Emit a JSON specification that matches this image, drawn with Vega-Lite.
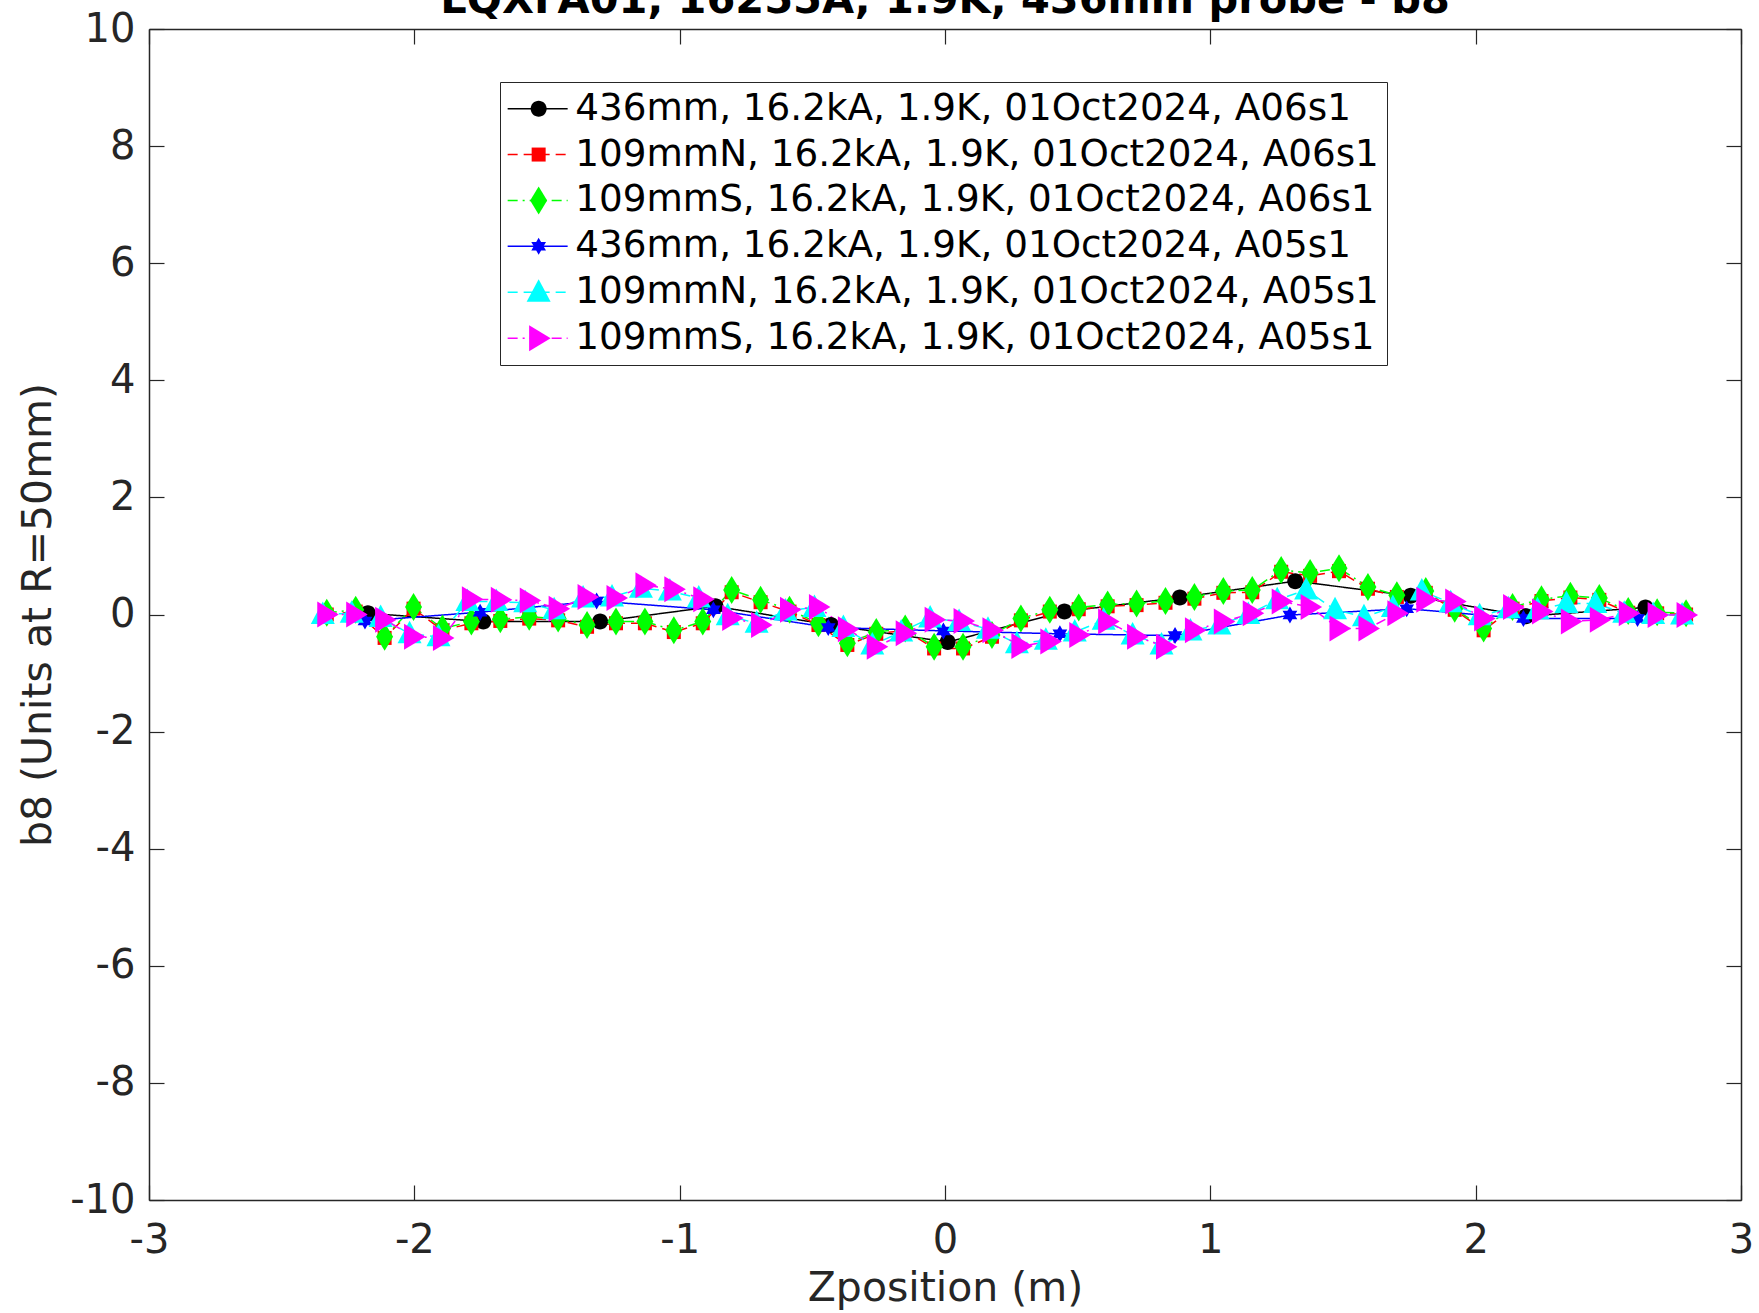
{
"$schema": "https://vega.github.io/schema/vega-lite/v6.json",
"width": 1592, "height": 1171,
"autosize": {"type": "none"},
"padding": {"left": 149, "top": 29, "right": 18, "bottom": 113},
"background": "white",
"title": {"text": "LQXFA01, 16255A, 1.9K, 436mm probe - b8", "font": "DejaVu Sans", "fontSize": 41.5, "fontWeight": "bold", "color": "black", "anchor": "middle", "baseline": "alphabetic", "offset": -45, "frame": "group"},
"config": {
  "view": {"stroke": null},
  "axis": {"domainColor": "#262626", "domainWidth": 1.5, "tickColor": "#262626", "tickWidth": 1.2, "tickSize": -15, "labelFont": "DejaVu Sans", "labelFontSize": 40, "labelColor": "#262626", "titleFont": "DejaVu Sans", "titleFontSize": 41, "titleFontWeight": "normal", "titleColor": "#262626", "grid": false, "labelFlush": false, "labelOverlap": false}
},
"data": {"values": [
{"s":"436mm, 16.2kA, 1.9K, 01Oct2024, A06s1","z":-2.175,"b":0.02},
{"s":"436mm, 16.2kA, 1.9K, 01Oct2024, A06s1","z":-1.74,"b":-0.12},
{"s":"436mm, 16.2kA, 1.9K, 01Oct2024, A06s1","z":-1.30,"b":-0.12},
{"s":"436mm, 16.2kA, 1.9K, 01Oct2024, A06s1","z":-0.865,"b":0.14},
{"s":"436mm, 16.2kA, 1.9K, 01Oct2024, A06s1","z":-0.43,"b":-0.18},
{"s":"436mm, 16.2kA, 1.9K, 01Oct2024, A06s1","z":0.01,"b":-0.47},
{"s":"436mm, 16.2kA, 1.9K, 01Oct2024, A06s1","z":0.45,"b":0.05},
{"s":"436mm, 16.2kA, 1.9K, 01Oct2024, A06s1","z":0.885,"b":0.29},
{"s":"436mm, 16.2kA, 1.9K, 01Oct2024, A06s1","z":1.32,"b":0.57},
{"s":"436mm, 16.2kA, 1.9K, 01Oct2024, A06s1","z":1.755,"b":0.32},
{"s":"436mm, 16.2kA, 1.9K, 01Oct2024, A06s1","z":2.19,"b":-0.03},
{"s":"436mm, 16.2kA, 1.9K, 01Oct2024, A06s1","z":2.64,"b":0.12},
{"s":"109mmN, 16.2kA, 1.9K, 01Oct2024, A06s1","z":-2.330,"b":0.00},
{"s":"109mmN, 16.2kA, 1.9K, 01Oct2024, A06s1","z":-2.221,"b":0.05},
{"s":"109mmN, 16.2kA, 1.9K, 01Oct2024, A06s1","z":-2.112,"b":-0.40},
{"s":"109mmN, 16.2kA, 1.9K, 01Oct2024, A06s1","z":-2.003,"b":0.10},
{"s":"109mmN, 16.2kA, 1.9K, 01Oct2024, A06s1","z":-1.894,"b":-0.27},
{"s":"109mmN, 16.2kA, 1.9K, 01Oct2024, A06s1","z":-1.785,"b":-0.15},
{"s":"109mmN, 16.2kA, 1.9K, 01Oct2024, A06s1","z":-1.676,"b":-0.11},
{"s":"109mmN, 16.2kA, 1.9K, 01Oct2024, A06s1","z":-1.567,"b":-0.07},
{"s":"109mmN, 16.2kA, 1.9K, 01Oct2024, A06s1","z":-1.458,"b":-0.10},
{"s":"109mmN, 16.2kA, 1.9K, 01Oct2024, A06s1","z":-1.349,"b":-0.21},
{"s":"109mmN, 16.2kA, 1.9K, 01Oct2024, A06s1","z":-1.240,"b":-0.15},
{"s":"109mmN, 16.2kA, 1.9K, 01Oct2024, A06s1","z":-1.131,"b":-0.15},
{"s":"109mmN, 16.2kA, 1.9K, 01Oct2024, A06s1","z":-1.022,"b":-0.30},
{"s":"109mmN, 16.2kA, 1.9K, 01Oct2024, A06s1","z":-0.913,"b":-0.15},
{"s":"109mmN, 16.2kA, 1.9K, 01Oct2024, A06s1","z":-0.804,"b":0.38},
{"s":"109mmN, 16.2kA, 1.9K, 01Oct2024, A06s1","z":-0.695,"b":0.21},
{"s":"109mmN, 16.2kA, 1.9K, 01Oct2024, A06s1","z":-0.586,"b":0.05},
{"s":"109mmN, 16.2kA, 1.9K, 01Oct2024, A06s1","z":-0.477,"b":-0.18},
{"s":"109mmN, 16.2kA, 1.9K, 01Oct2024, A06s1","z":-0.368,"b":-0.52},
{"s":"109mmN, 16.2kA, 1.9K, 01Oct2024, A06s1","z":-0.259,"b":-0.33},
{"s":"109mmN, 16.2kA, 1.9K, 01Oct2024, A06s1","z":-0.150,"b":-0.27},
{"s":"109mmN, 16.2kA, 1.9K, 01Oct2024, A06s1","z":-0.041,"b":-0.58},
{"s":"109mmN, 16.2kA, 1.9K, 01Oct2024, A06s1","z":0.068,"b":-0.58},
{"s":"109mmN, 16.2kA, 1.9K, 01Oct2024, A06s1","z":0.177,"b":-0.38},
{"s":"109mmN, 16.2kA, 1.9K, 01Oct2024, A06s1","z":0.286,"b":-0.10},
{"s":"109mmN, 16.2kA, 1.9K, 01Oct2024, A06s1","z":0.395,"b":0.05},
{"s":"109mmN, 16.2kA, 1.9K, 01Oct2024, A06s1","z":0.504,"b":0.09},
{"s":"109mmN, 16.2kA, 1.9K, 01Oct2024, A06s1","z":0.613,"b":0.14},
{"s":"109mmN, 16.2kA, 1.9K, 01Oct2024, A06s1","z":0.722,"b":0.16},
{"s":"109mmN, 16.2kA, 1.9K, 01Oct2024, A06s1","z":0.831,"b":0.20},
{"s":"109mmN, 16.2kA, 1.9K, 01Oct2024, A06s1","z":0.940,"b":0.27},
{"s":"109mmN, 16.2kA, 1.9K, 01Oct2024, A06s1","z":1.049,"b":0.37},
{"s":"109mmN, 16.2kA, 1.9K, 01Oct2024, A06s1","z":1.158,"b":0.38},
{"s":"109mmN, 16.2kA, 1.9K, 01Oct2024, A06s1","z":1.267,"b":0.73},
{"s":"109mmN, 16.2kA, 1.9K, 01Oct2024, A06s1","z":1.376,"b":0.66},
{"s":"109mmN, 16.2kA, 1.9K, 01Oct2024, A06s1","z":1.485,"b":0.74},
{"s":"109mmN, 16.2kA, 1.9K, 01Oct2024, A06s1","z":1.594,"b":0.44},
{"s":"109mmN, 16.2kA, 1.9K, 01Oct2024, A06s1","z":1.703,"b":0.30},
{"s":"109mmN, 16.2kA, 1.9K, 01Oct2024, A06s1","z":1.812,"b":0.37},
{"s":"109mmN, 16.2kA, 1.9K, 01Oct2024, A06s1","z":1.921,"b":0.08},
{"s":"109mmN, 16.2kA, 1.9K, 01Oct2024, A06s1","z":2.030,"b":-0.27},
{"s":"109mmN, 16.2kA, 1.9K, 01Oct2024, A06s1","z":2.139,"b":0.10},
{"s":"109mmN, 16.2kA, 1.9K, 01Oct2024, A06s1","z":2.248,"b":0.23},
{"s":"109mmN, 16.2kA, 1.9K, 01Oct2024, A06s1","z":2.357,"b":0.29},
{"s":"109mmN, 16.2kA, 1.9K, 01Oct2024, A06s1","z":2.466,"b":0.25},
{"s":"109mmN, 16.2kA, 1.9K, 01Oct2024, A06s1","z":2.575,"b":0.03},
{"s":"109mmN, 16.2kA, 1.9K, 01Oct2024, A06s1","z":2.684,"b":0.02},
{"s":"109mmN, 16.2kA, 1.9K, 01Oct2024, A06s1","z":2.793,"b":0.00},
{"s":"109mmS, 16.2kA, 1.9K, 01Oct2024, A06s1","z":-2.330,"b":0.03},
{"s":"109mmS, 16.2kA, 1.9K, 01Oct2024, A06s1","z":-2.221,"b":0.08},
{"s":"109mmS, 16.2kA, 1.9K, 01Oct2024, A06s1","z":-2.112,"b":-0.38},
{"s":"109mmS, 16.2kA, 1.9K, 01Oct2024, A06s1","z":-2.003,"b":0.13},
{"s":"109mmS, 16.2kA, 1.9K, 01Oct2024, A06s1","z":-1.894,"b":-0.24},
{"s":"109mmS, 16.2kA, 1.9K, 01Oct2024, A06s1","z":-1.785,"b":-0.12},
{"s":"109mmS, 16.2kA, 1.9K, 01Oct2024, A06s1","z":-1.676,"b":-0.08},
{"s":"109mmS, 16.2kA, 1.9K, 01Oct2024, A06s1","z":-1.567,"b":-0.04},
{"s":"109mmS, 16.2kA, 1.9K, 01Oct2024, A06s1","z":-1.458,"b":-0.07},
{"s":"109mmS, 16.2kA, 1.9K, 01Oct2024, A06s1","z":-1.349,"b":-0.18},
{"s":"109mmS, 16.2kA, 1.9K, 01Oct2024, A06s1","z":-1.240,"b":-0.12},
{"s":"109mmS, 16.2kA, 1.9K, 01Oct2024, A06s1","z":-1.131,"b":-0.12},
{"s":"109mmS, 16.2kA, 1.9K, 01Oct2024, A06s1","z":-1.022,"b":-0.27},
{"s":"109mmS, 16.2kA, 1.9K, 01Oct2024, A06s1","z":-0.913,"b":-0.12},
{"s":"109mmS, 16.2kA, 1.9K, 01Oct2024, A06s1","z":-0.804,"b":0.42},
{"s":"109mmS, 16.2kA, 1.9K, 01Oct2024, A06s1","z":-0.695,"b":0.25},
{"s":"109mmS, 16.2kA, 1.9K, 01Oct2024, A06s1","z":-0.586,"b":0.08},
{"s":"109mmS, 16.2kA, 1.9K, 01Oct2024, A06s1","z":-0.477,"b":-0.15},
{"s":"109mmS, 16.2kA, 1.9K, 01Oct2024, A06s1","z":-0.368,"b":-0.49},
{"s":"109mmS, 16.2kA, 1.9K, 01Oct2024, A06s1","z":-0.259,"b":-0.30},
{"s":"109mmS, 16.2kA, 1.9K, 01Oct2024, A06s1","z":-0.150,"b":-0.24},
{"s":"109mmS, 16.2kA, 1.9K, 01Oct2024, A06s1","z":-0.041,"b":-0.55},
{"s":"109mmS, 16.2kA, 1.9K, 01Oct2024, A06s1","z":0.068,"b":-0.55},
{"s":"109mmS, 16.2kA, 1.9K, 01Oct2024, A06s1","z":0.177,"b":-0.35},
{"s":"109mmS, 16.2kA, 1.9K, 01Oct2024, A06s1","z":0.286,"b":-0.07},
{"s":"109mmS, 16.2kA, 1.9K, 01Oct2024, A06s1","z":0.395,"b":0.08},
{"s":"109mmS, 16.2kA, 1.9K, 01Oct2024, A06s1","z":0.504,"b":0.12},
{"s":"109mmS, 16.2kA, 1.9K, 01Oct2024, A06s1","z":0.613,"b":0.17},
{"s":"109mmS, 16.2kA, 1.9K, 01Oct2024, A06s1","z":0.722,"b":0.19},
{"s":"109mmS, 16.2kA, 1.9K, 01Oct2024, A06s1","z":0.831,"b":0.23},
{"s":"109mmS, 16.2kA, 1.9K, 01Oct2024, A06s1","z":0.940,"b":0.30},
{"s":"109mmS, 16.2kA, 1.9K, 01Oct2024, A06s1","z":1.049,"b":0.40},
{"s":"109mmS, 16.2kA, 1.9K, 01Oct2024, A06s1","z":1.158,"b":0.42},
{"s":"109mmS, 16.2kA, 1.9K, 01Oct2024, A06s1","z":1.267,"b":0.76},
{"s":"109mmS, 16.2kA, 1.9K, 01Oct2024, A06s1","z":1.376,"b":0.71},
{"s":"109mmS, 16.2kA, 1.9K, 01Oct2024, A06s1","z":1.485,"b":0.79},
{"s":"109mmS, 16.2kA, 1.9K, 01Oct2024, A06s1","z":1.594,"b":0.47},
{"s":"109mmS, 16.2kA, 1.9K, 01Oct2024, A06s1","z":1.703,"b":0.33},
{"s":"109mmS, 16.2kA, 1.9K, 01Oct2024, A06s1","z":1.812,"b":0.40},
{"s":"109mmS, 16.2kA, 1.9K, 01Oct2024, A06s1","z":1.921,"b":0.10},
{"s":"109mmS, 16.2kA, 1.9K, 01Oct2024, A06s1","z":2.030,"b":-0.24},
{"s":"109mmS, 16.2kA, 1.9K, 01Oct2024, A06s1","z":2.139,"b":0.13},
{"s":"109mmS, 16.2kA, 1.9K, 01Oct2024, A06s1","z":2.248,"b":0.26},
{"s":"109mmS, 16.2kA, 1.9K, 01Oct2024, A06s1","z":2.357,"b":0.32},
{"s":"109mmS, 16.2kA, 1.9K, 01Oct2024, A06s1","z":2.466,"b":0.28},
{"s":"109mmS, 16.2kA, 1.9K, 01Oct2024, A06s1","z":2.575,"b":0.06},
{"s":"109mmS, 16.2kA, 1.9K, 01Oct2024, A06s1","z":2.684,"b":0.04},
{"s":"109mmS, 16.2kA, 1.9K, 01Oct2024, A06s1","z":2.793,"b":0.02},
{"s":"436mm, 16.2kA, 1.9K, 01Oct2024, A05s1","z":-2.186,"b":-0.11},
{"s":"436mm, 16.2kA, 1.9K, 01Oct2024, A05s1","z":-1.752,"b":0.04},
{"s":"436mm, 16.2kA, 1.9K, 01Oct2024, A05s1","z":-1.313,"b":0.23},
{"s":"436mm, 16.2kA, 1.9K, 01Oct2024, A05s1","z":-0.873,"b":0.08},
{"s":"436mm, 16.2kA, 1.9K, 01Oct2024, A05s1","z":-0.44,"b":-0.22},
{"s":"436mm, 16.2kA, 1.9K, 01Oct2024, A05s1","z":-0.006,"b":-0.28},
{"s":"436mm, 16.2kA, 1.9K, 01Oct2024, A05s1","z":0.433,"b":-0.33},
{"s":"436mm, 16.2kA, 1.9K, 01Oct2024, A05s1","z":0.867,"b":-0.36},
{"s":"436mm, 16.2kA, 1.9K, 01Oct2024, A05s1","z":1.30,"b":-0.01},
{"s":"436mm, 16.2kA, 1.9K, 01Oct2024, A05s1","z":1.74,"b":0.10},
{"s":"436mm, 16.2kA, 1.9K, 01Oct2024, A05s1","z":2.18,"b":-0.07},
{"s":"436mm, 16.2kA, 1.9K, 01Oct2024, A05s1","z":2.61,"b":-0.07},
{"s":"109mmN, 16.2kA, 1.9K, 01Oct2024, A05s1","z":-2.345,"b":0.00},
{"s":"109mmN, 16.2kA, 1.9K, 01Oct2024, A05s1","z":-2.236,"b":0.02},
{"s":"109mmN, 16.2kA, 1.9K, 01Oct2024, A05s1","z":-2.127,"b":-0.05},
{"s":"109mmN, 16.2kA, 1.9K, 01Oct2024, A05s1","z":-2.018,"b":-0.33},
{"s":"109mmN, 16.2kA, 1.9K, 01Oct2024, A05s1","z":-1.909,"b":-0.38},
{"s":"109mmN, 16.2kA, 1.9K, 01Oct2024, A05s1","z":-1.800,"b":0.22},
{"s":"109mmN, 16.2kA, 1.9K, 01Oct2024, A05s1","z":-1.691,"b":0.22},
{"s":"109mmN, 16.2kA, 1.9K, 01Oct2024, A05s1","z":-1.582,"b":0.20},
{"s":"109mmN, 16.2kA, 1.9K, 01Oct2024, A05s1","z":-1.473,"b":0.08},
{"s":"109mmN, 16.2kA, 1.9K, 01Oct2024, A05s1","z":-1.364,"b":0.28},
{"s":"109mmN, 16.2kA, 1.9K, 01Oct2024, A05s1","z":-1.255,"b":0.30},
{"s":"109mmN, 16.2kA, 1.9K, 01Oct2024, A05s1","z":-1.146,"b":0.45},
{"s":"109mmN, 16.2kA, 1.9K, 01Oct2024, A05s1","z":-1.037,"b":0.40},
{"s":"109mmN, 16.2kA, 1.9K, 01Oct2024, A05s1","z":-0.928,"b":0.28},
{"s":"109mmN, 16.2kA, 1.9K, 01Oct2024, A05s1","z":-0.819,"b":-0.02},
{"s":"109mmN, 16.2kA, 1.9K, 01Oct2024, A05s1","z":-0.710,"b":-0.15},
{"s":"109mmN, 16.2kA, 1.9K, 01Oct2024, A05s1","z":-0.601,"b":0.06},
{"s":"109mmN, 16.2kA, 1.9K, 01Oct2024, A05s1","z":-0.492,"b":0.12},
{"s":"109mmN, 16.2kA, 1.9K, 01Oct2024, A05s1","z":-0.383,"b":-0.22},
{"s":"109mmN, 16.2kA, 1.9K, 01Oct2024, A05s1","z":-0.274,"b":-0.52},
{"s":"109mmN, 16.2kA, 1.9K, 01Oct2024, A05s1","z":-0.165,"b":-0.30},
{"s":"109mmN, 16.2kA, 1.9K, 01Oct2024, A05s1","z":-0.056,"b":-0.06},
{"s":"109mmN, 16.2kA, 1.9K, 01Oct2024, A05s1","z":0.053,"b":-0.12},
{"s":"109mmN, 16.2kA, 1.9K, 01Oct2024, A05s1","z":0.162,"b":-0.25},
{"s":"109mmN, 16.2kA, 1.9K, 01Oct2024, A05s1","z":0.271,"b":-0.50},
{"s":"109mmN, 16.2kA, 1.9K, 01Oct2024, A05s1","z":0.380,"b":-0.44},
{"s":"109mmN, 16.2kA, 1.9K, 01Oct2024, A05s1","z":0.489,"b":-0.30},
{"s":"109mmN, 16.2kA, 1.9K, 01Oct2024, A05s1","z":0.598,"b":-0.10},
{"s":"109mmN, 16.2kA, 1.9K, 01Oct2024, A05s1","z":0.707,"b":-0.35},
{"s":"109mmN, 16.2kA, 1.9K, 01Oct2024, A05s1","z":0.816,"b":-0.52},
{"s":"109mmN, 16.2kA, 1.9K, 01Oct2024, A05s1","z":0.925,"b":-0.28},
{"s":"109mmN, 16.2kA, 1.9K, 01Oct2024, A05s1","z":1.034,"b":-0.18},
{"s":"109mmN, 16.2kA, 1.9K, 01Oct2024, A05s1","z":1.143,"b":0.00},
{"s":"109mmN, 16.2kA, 1.9K, 01Oct2024, A05s1","z":1.252,"b":0.25},
{"s":"109mmN, 16.2kA, 1.9K, 01Oct2024, A05s1","z":1.361,"b":0.42},
{"s":"109mmN, 16.2kA, 1.9K, 01Oct2024, A05s1","z":1.470,"b":0.08},
{"s":"109mmN, 16.2kA, 1.9K, 01Oct2024, A05s1","z":1.579,"b":-0.04},
{"s":"109mmN, 16.2kA, 1.9K, 01Oct2024, A05s1","z":1.688,"b":0.12},
{"s":"109mmN, 16.2kA, 1.9K, 01Oct2024, A05s1","z":1.797,"b":0.40},
{"s":"109mmN, 16.2kA, 1.9K, 01Oct2024, A05s1","z":1.906,"b":0.20},
{"s":"109mmN, 16.2kA, 1.9K, 01Oct2024, A05s1","z":2.015,"b":-0.02},
{"s":"109mmN, 16.2kA, 1.9K, 01Oct2024, A05s1","z":2.124,"b":0.10},
{"s":"109mmN, 16.2kA, 1.9K, 01Oct2024, A05s1","z":2.233,"b":0.08},
{"s":"109mmN, 16.2kA, 1.9K, 01Oct2024, A05s1","z":2.342,"b":0.19},
{"s":"109mmN, 16.2kA, 1.9K, 01Oct2024, A05s1","z":2.451,"b":0.19},
{"s":"109mmN, 16.2kA, 1.9K, 01Oct2024, A05s1","z":2.560,"b":0.02},
{"s":"109mmN, 16.2kA, 1.9K, 01Oct2024, A05s1","z":2.669,"b":0.00},
{"s":"109mmN, 16.2kA, 1.9K, 01Oct2024, A05s1","z":2.778,"b":-0.01},
{"s":"109mmS, 16.2kA, 1.9K, 01Oct2024, A05s1","z":-2.330,"b":0.00},
{"s":"109mmS, 16.2kA, 1.9K, 01Oct2024, A05s1","z":-2.221,"b":0.00},
{"s":"109mmS, 16.2kA, 1.9K, 01Oct2024, A05s1","z":-2.112,"b":-0.09},
{"s":"109mmS, 16.2kA, 1.9K, 01Oct2024, A05s1","z":-2.003,"b":-0.38},
{"s":"109mmS, 16.2kA, 1.9K, 01Oct2024, A05s1","z":-1.894,"b":-0.40},
{"s":"109mmS, 16.2kA, 1.9K, 01Oct2024, A05s1","z":-1.785,"b":0.26},
{"s":"109mmS, 16.2kA, 1.9K, 01Oct2024, A05s1","z":-1.676,"b":0.25},
{"s":"109mmS, 16.2kA, 1.9K, 01Oct2024, A05s1","z":-1.567,"b":0.24},
{"s":"109mmS, 16.2kA, 1.9K, 01Oct2024, A05s1","z":-1.458,"b":0.10},
{"s":"109mmS, 16.2kA, 1.9K, 01Oct2024, A05s1","z":-1.349,"b":0.30},
{"s":"109mmS, 16.2kA, 1.9K, 01Oct2024, A05s1","z":-1.240,"b":0.28},
{"s":"109mmS, 16.2kA, 1.9K, 01Oct2024, A05s1","z":-1.131,"b":0.50},
{"s":"109mmS, 16.2kA, 1.9K, 01Oct2024, A05s1","z":-1.022,"b":0.43},
{"s":"109mmS, 16.2kA, 1.9K, 01Oct2024, A05s1","z":-0.913,"b":0.26},
{"s":"109mmS, 16.2kA, 1.9K, 01Oct2024, A05s1","z":-0.804,"b":-0.06},
{"s":"109mmS, 16.2kA, 1.9K, 01Oct2024, A05s1","z":-0.695,"b":-0.18},
{"s":"109mmS, 16.2kA, 1.9K, 01Oct2024, A05s1","z":-0.586,"b":0.08},
{"s":"109mmS, 16.2kA, 1.9K, 01Oct2024, A05s1","z":-0.477,"b":0.13},
{"s":"109mmS, 16.2kA, 1.9K, 01Oct2024, A05s1","z":-0.368,"b":-0.25},
{"s":"109mmS, 16.2kA, 1.9K, 01Oct2024, A05s1","z":-0.259,"b":-0.55},
{"s":"109mmS, 16.2kA, 1.9K, 01Oct2024, A05s1","z":-0.150,"b":-0.32},
{"s":"109mmS, 16.2kA, 1.9K, 01Oct2024, A05s1","z":-0.041,"b":-0.09},
{"s":"109mmS, 16.2kA, 1.9K, 01Oct2024, A05s1","z":0.068,"b":-0.11},
{"s":"109mmS, 16.2kA, 1.9K, 01Oct2024, A05s1","z":0.177,"b":-0.27},
{"s":"109mmS, 16.2kA, 1.9K, 01Oct2024, A05s1","z":0.286,"b":-0.54},
{"s":"109mmS, 16.2kA, 1.9K, 01Oct2024, A05s1","z":0.395,"b":-0.46},
{"s":"109mmS, 16.2kA, 1.9K, 01Oct2024, A05s1","z":0.504,"b":-0.35},
{"s":"109mmS, 16.2kA, 1.9K, 01Oct2024, A05s1","z":0.613,"b":-0.12},
{"s":"109mmS, 16.2kA, 1.9K, 01Oct2024, A05s1","z":0.722,"b":-0.38},
{"s":"109mmS, 16.2kA, 1.9K, 01Oct2024, A05s1","z":0.831,"b":-0.55},
{"s":"109mmS, 16.2kA, 1.9K, 01Oct2024, A05s1","z":0.940,"b":-0.27},
{"s":"109mmS, 16.2kA, 1.9K, 01Oct2024, A05s1","z":1.049,"b":-0.12},
{"s":"109mmS, 16.2kA, 1.9K, 01Oct2024, A05s1","z":1.158,"b":0.02},
{"s":"109mmS, 16.2kA, 1.9K, 01Oct2024, A05s1","z":1.267,"b":0.22},
{"s":"109mmS, 16.2kA, 1.9K, 01Oct2024, A05s1","z":1.376,"b":0.13},
{"s":"109mmS, 16.2kA, 1.9K, 01Oct2024, A05s1","z":1.485,"b":-0.24},
{"s":"109mmS, 16.2kA, 1.9K, 01Oct2024, A05s1","z":1.594,"b":-0.24},
{"s":"109mmS, 16.2kA, 1.9K, 01Oct2024, A05s1","z":1.703,"b":0.02},
{"s":"109mmS, 16.2kA, 1.9K, 01Oct2024, A05s1","z":1.812,"b":0.25},
{"s":"109mmS, 16.2kA, 1.9K, 01Oct2024, A05s1","z":1.921,"b":0.22},
{"s":"109mmS, 16.2kA, 1.9K, 01Oct2024, A05s1","z":2.030,"b":-0.07},
{"s":"109mmS, 16.2kA, 1.9K, 01Oct2024, A05s1","z":2.139,"b":0.13},
{"s":"109mmS, 16.2kA, 1.9K, 01Oct2024, A05s1","z":2.248,"b":0.05},
{"s":"109mmS, 16.2kA, 1.9K, 01Oct2024, A05s1","z":2.357,"b":-0.12},
{"s":"109mmS, 16.2kA, 1.9K, 01Oct2024, A05s1","z":2.466,"b":-0.09},
{"s":"109mmS, 16.2kA, 1.9K, 01Oct2024, A05s1","z":2.575,"b":0.02},
{"s":"109mmS, 16.2kA, 1.9K, 01Oct2024, A05s1","z":2.684,"b":-0.01},
{"s":"109mmS, 16.2kA, 1.9K, 01Oct2024, A05s1","z":2.793,"b":-0.01}
]},
"layer": [
  {
    "mark": {"type": "line", "strokeWidth": 1.5},
    "encoding": {
      "x": {"field": "z", "type": "quantitative", "scale": {"domain": [-3, 3], "nice": false, "zero": false},
            "axis": {"orient": "bottom", "values": [-3, -2, -1, 0, 1, 2, 3], "labelExpr": "'' + datum.value", "labelPadding": 35, "title": "Zposition (m)", "titlePadding": 8}},
      "y": {"field": "b", "type": "quantitative", "scale": {"domain": [-10, 10], "nice": false, "zero": false},
            "axis": {"orient": "left", "values": [-10, -8, -6, -4, -2, 0, 2, 4, 6, 8, 10], "labelExpr": "'' + datum.value", "labelPadding": 29, "title": "b8 (Units at R=50mm)", "titlePadding": 10}},
      "color": {"field": "s", "type": "nominal",
        "scale": {"domain": ["436mm, 16.2kA, 1.9K, 01Oct2024, A06s1", "109mmN, 16.2kA, 1.9K, 01Oct2024, A06s1", "109mmS, 16.2kA, 1.9K, 01Oct2024, A06s1", "436mm, 16.2kA, 1.9K, 01Oct2024, A05s1", "109mmN, 16.2kA, 1.9K, 01Oct2024, A05s1", "109mmS, 16.2kA, 1.9K, 01Oct2024, A05s1"],
                  "range": ["#000000", "#ff0000", "#00ff00", "#0000ff", "#00ffff", "#ff00ff"]},
        "legend": {"orient": "none", "legendX": 351, "legendY": 53, "title": null, "symbolType": "M-1.9,0H4.1", "symbolSize": 400, "symbolStrokeWidth": 1.5, "labelFont": "DejaVu Sans", "labelFontSize": 37.3, "labelOpacity": 0, "labelOffset": 30, "labelLimit": 2000, "padding": 8, "rowPadding": 7.9, "strokeColor": "#262626"}},
      "strokeDash": {"field": "s", "type": "nominal",
        "scale": {"domain": ["436mm, 16.2kA, 1.9K, 01Oct2024, A06s1", "109mmN, 16.2kA, 1.9K, 01Oct2024, A06s1", "109mmS, 16.2kA, 1.9K, 01Oct2024, A06s1", "436mm, 16.2kA, 1.9K, 01Oct2024, A05s1", "109mmN, 16.2kA, 1.9K, 01Oct2024, A05s1", "109mmS, 16.2kA, 1.9K, 01Oct2024, A05s1"],
                  "range": [[1, 0], [10, 6], [10, 5, 2, 5], [1, 0], [10, 6], [10, 5, 2, 5]]},
        "legend": {"orient": "none", "legendX": 351, "legendY": 53, "title": null, "symbolType": "M-1.9,0H4.1", "symbolSize": 400, "symbolStrokeWidth": 1.5, "labelFont": "DejaVu Sans", "labelFontSize": 37.3, "labelOpacity": 0, "labelOffset": 30, "labelLimit": 2000, "padding": 8, "rowPadding": 7.9, "strokeColor": "#262626"}}
    }
  },
  {
    "mark": {"type": "point", "filled": true, "size": 400, "opacity": 1},
    "encoding": {
      "x": {"field": "z", "type": "quantitative", "axis": {"orient": "top", "values": [-3, -2, -1, 0, 1, 2, 3], "labels": false, "title": null}},
      "y": {"field": "b", "type": "quantitative", "axis": {"orient": "right", "values": [-10, -8, -6, -4, -2, 0, 2, 4, 6, 8, 10], "labels": false, "title": null}},
      "color": {"field": "s", "type": "nominal",
        "scale": {"domain": ["436mm, 16.2kA, 1.9K, 01Oct2024, A06s1", "109mmN, 16.2kA, 1.9K, 01Oct2024, A06s1", "109mmS, 16.2kA, 1.9K, 01Oct2024, A06s1", "436mm, 16.2kA, 1.9K, 01Oct2024, A05s1", "109mmN, 16.2kA, 1.9K, 01Oct2024, A05s1", "109mmS, 16.2kA, 1.9K, 01Oct2024, A05s1"],
                  "range": ["#000000", "#ff0000", "#00ff00", "#0000ff", "#00ffff", "#ff00ff"]},
        "legend": {"orient": "none", "legendX": 363, "legendY": 53, "title": null, "symbolSize": 400, "labelFont": "DejaVu Sans", "labelFontSize": 37.3, "labelColor": "#000000", "labelOffset": 18, "labelLimit": 2000, "padding": 8, "rowPadding": 7.9}},
      "shape": {"field": "s", "type": "nominal",
        "scale": {"domain": ["436mm, 16.2kA, 1.9K, 01Oct2024, A06s1", "109mmN, 16.2kA, 1.9K, 01Oct2024, A06s1", "109mmS, 16.2kA, 1.9K, 01Oct2024, A06s1", "436mm, 16.2kA, 1.9K, 01Oct2024, A05s1", "109mmN, 16.2kA, 1.9K, 01Oct2024, A05s1", "109mmS, 16.2kA, 1.9K, 01Oct2024, A05s1"],
                  "range": ["M0.8,0A0.8,0.8 0 1,1 -0.8,0A0.8,0.8 0 1,1 0.8,0Z", "M-0.7,-0.7H0.7V0.7H-0.7Z", "M0,-1.4L0.85,0L0,1.4L-0.85,0Z", "M0,-0.85L0.245,-0.425L0.736,-0.425L0.49,0L0.736,0.425L0.245,0.425L0,0.85L-0.245,0.425L-0.736,0.425L-0.49,0L-0.736,-0.425L-0.245,-0.425Z", "M0,-1.3L1.2,0.95L-1.2,0.95Z", "M-0.95,-1.3L1.2,0L-0.95,1.3Z"]},
        "legend": {"orient": "none", "legendX": 363, "legendY": 53, "title": null, "symbolSize": 400, "labelFont": "DejaVu Sans", "labelFontSize": 37.3, "labelColor": "#000000", "labelOffset": 18, "labelLimit": 2000, "padding": 8, "rowPadding": 7.9}}
    }
  }
],
"resolve": {
  "scale": {"color": "independent", "shape": "independent", "strokeDash": "independent"},
  "legend": {"color": "independent", "shape": "independent", "strokeDash": "independent"},
  "axis": {"x": "independent", "y": "independent"}
}
}
